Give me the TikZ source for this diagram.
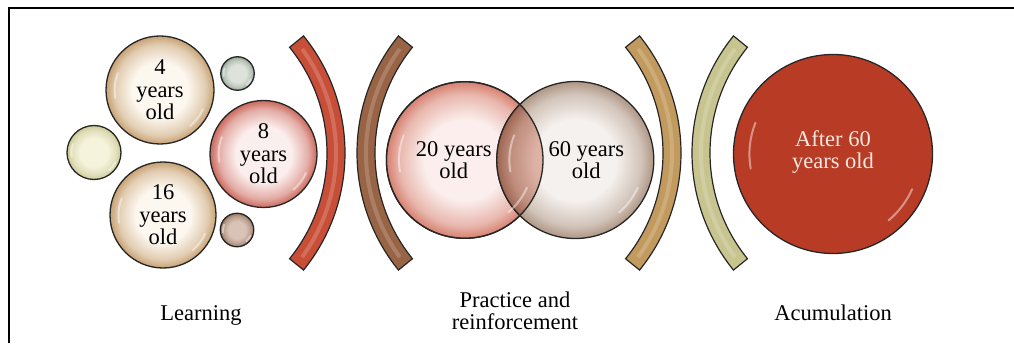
\documentclass[tikz,border=0pt]{standalone}
\usepackage{fontspec}
\setmainfont{Liberation Serif}

\definecolor{tanin}{HTML}{FCF7EF}
\definecolor{tanrim}{HTML}{C7A274}
\definecolor{pinkin}{HTML}{FBEFEE}
\definecolor{pinkrim}{HTML}{CB685C}
\definecolor{limein}{HTML}{F5F3DC}
\definecolor{limerim}{HTML}{CBC995}
\definecolor{sagein}{HTML}{DDE3DB}
\definecolor{sagerim}{HTML}{93A394}
\definecolor{cocoin}{HTML}{D8C3B6}
\definecolor{cocorim}{HTML}{98745F}
\definecolor{rosein}{HTML}{FBEEEC}
\definecolor{roserim}{HTML}{D6806F}
\definecolor{greyin}{HTML}{F5F1EE}
\definecolor{greyrim}{HTML}{AE9684}
\definecolor{mixin}{HTML}{DDB2A4}
\definecolor{mixrim}{HTML}{9E6653}
\definecolor{lastred}{HTML}{B83B26}
\definecolor{lasttext}{HTML}{F7E9DF}
\definecolor{arcred}{HTML}{C84E38}
\definecolor{arcbrown}{HTML}{996445}
\definecolor{arcgold}{HTML}{C29A5E}
\definecolor{arcolive}{HTML}{C8C48F}

\colorlet{glassin}{white}
\colorlet{glassout}{gray}
\pgfdeclareradialshading[glassin,glassout]{glass}{\pgfpoint{0bp}{0bp}}{%
  color(0bp)=(glassin); color(13bp)=(glassin); color(21bp)=(glassout!50!glassin);
  color(25bp)=(glassout); color(50bp)=(glassout)}

\tikzset{
  ball/.style={circle,draw=black!85,line width=1.3pt,inner sep=0pt,minimum size=#1},
  glassy/.style 2 args={/utils/exec={\colorlet{glassin}{#1}\colorlet{glassout}{#2}},shade,shading=glass},
  shine/.style={white,opacity=.45,line width=2pt,line cap=round},
  band/.style={draw=black!85,line width=1.2pt,fill=#1},
  agetext/.style={font=\fontsize{22.5}{22.5}\selectfont,align=center,inner sep=0pt},
}

\begin{document}
\begin{tikzpicture}[x=1pt,y=1pt]
            \useasboundingbox (0,0) rectangle (1014,343);
            \draw [line width=2pt] (9,0) -- (9,335) -- (1016,335);
            % learning
            \node (four) [ball=108pt,glassy={tanin}{tanrim}] at (160,253) {};
            \node (sixteen) [ball=106pt,glassy={tanin}{tanrim}] at (163,128) {};
            \node (eight) [ball=107pt,glassy={pinkin}{pinkrim}] at (263.5,189) {};
            \node (dotleft) [ball=54pt,glassy={limein}{limerim}] at (94,190.5) {};
            \node (dottop) [ball=33.5pt,glassy={sagein}{sagerim}] at (237.5,269.5) {};
            \node (dotbot) [ball=33.5pt,glassy={cocoin}{cocorim}] at (237,113) {};
            % practice
            \node (twenty) [ball=156.6pt,glassy={rosein}{roserim}] at (464.7,183) {};
            \node (sixty) [ball=157pt,glassy={greyin}{greyrim}] at (575.3,183) {};
            \begin{scope}
                \clip (twenty.center) circle (78.3pt);
                \node (overlap) [ball=157pt,glassy={mixin}{mixrim}] at (sixty.center) {};
            \end{scope}
            \draw [black!85,line width=1.3pt] (twenty.center) circle (78.3pt);
            % accumulation
            \node (after) [ball=199pt,fill=lastred] at (833,189) {};
            \foreach \b/\r in {four/54,sixteen/53,eight/53.5,dotleft/27,dottop/16.7,dotbot/16.7,twenty/78.3,sixty/78.5,after/99.5} {
                \draw [shine] (\b.center) ++(158:0.84*\r pt) arc [start angle=158,end angle=190,radius=0.84*\r pt];
                \draw [shine] (\b.center) ++(-50:0.87*\r pt) arc [start angle=-50,end angle=-24,radius=0.87*\r pt];
            }
            % brackets
            \foreach \cx/\a/\c in {159/0/arcred,543/180/arcbrown,495/0/arcgold,878/180/arcolive} {
                \begin{scope}[shift={(\cx,190)},rotate=\a]
                    \filldraw [band=\c] (-39:186pt) arc (-39:39:186pt) -- (39:168pt) arc (39:-39:168pt) -- cycle;
                    \draw [\c!60!white,line width=4pt,opacity=.45] (-36:177pt) arc (-36:36:177pt);
                \end{scope}
            }
            % texts
            \node (t4) [agetext] at (four.center) {4\\years\\old};
            \node (t16) [agetext] at (sixteen.center) {16\\years\\old};
            \node (t8) [agetext] at (eight.center) {8\\years\\old};
            \node (t20) [agetext] at ([xshift=-11pt]twenty.center) {20 years\\old};
            \node (t60) [agetext] at ([xshift=11pt]sixty.center) {60 years\\old};
            \node (tafter) [agetext,text=lasttext] at ([yshift=2pt]after.center) {After 60\\years old};
            \node (learning) [agetext,anchor=base] at (201,23) {Learning};
            \node (practice) [agetext,anchor=north] at (515,51.5) {Practice and\\reinforcement};
            \node (acum) [agetext,anchor=base] at (833,23) {Acumulation};
        \end{tikzpicture}
\end{document}
